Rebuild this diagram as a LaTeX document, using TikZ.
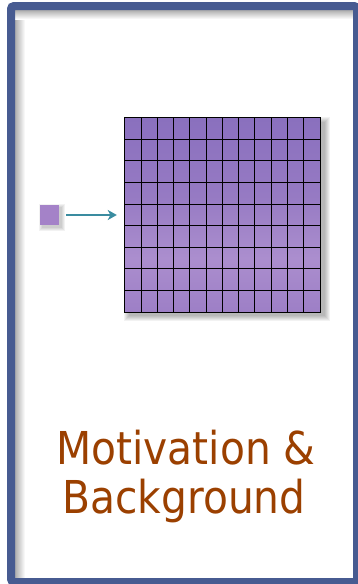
\documentclass[tikz,border=0pt]{standalone}
\usepackage{fontspec}
\setmainfont{DejaVu Sans Condensed}
\usetikzlibrary{arrows.meta}
\definecolor{framec}{RGB}{71,91,145}
\definecolor{arrowc}{RGB}{58,140,160}
\definecolor{titlec}{RGB}{155,64,0}
\definecolor{sqc}{RGB}{164,130,200}
\definecolor{gtop}{RGB}{138,112,190}
\definecolor{gmid}{RGB}{150,122,195}
\definecolor{glight}{RGB}{171,142,206}
\definecolor{gbot}{RGB}{157,127,198}
\pgfdeclareverticalshading{gridshade}{100bp}{color(0bp)=(gbot); color(25bp)=(gbot); color(39bp)=(glight); color(55bp)=(gmid); color(75bp)=(gtop); color(100bp)=(gtop)}
\tikzset{
  gridbox/.style={rectangle, inner sep=0pt, minimum width=195pt, minimum height=194pt, shading=gridshade},
  gridline/.style={black, line width=1pt},
  sqbox/.style={rectangle, inner sep=0pt, minimum size=19.5pt, fill=sqc},
  title/.style={text=titlec, font=\fontsize{45.3}{49}\selectfont},
  frame/.style={framec, line width=8pt, rounded corners=3pt},
  link/.style={arrowc, line width=2.4pt, -{Stealth[length=9pt,width=10pt,inset=2.5pt]}}
}
\begin{document}
\begin{tikzpicture}[x=1pt,y=-1pt]
\useasboundingbox (0,0) rectangle (357,584);
\fill[white] (0,0) rectangle (357,584);
% inner shadow of the frame
\shade[left color=black!32, right color=white] (15,10) rectangle (25,578);
\shade[top color=black!32, bottom color=white] (15,10) rectangle (353,19);
\draw[frame] (11,6) rectangle (357,582);
% grid shadow
\foreach \r in {0,...,5}
  \fill[black, opacity=0.05] (129-\r,122-\r) rectangle (325+\r,316+\r);
% square shadow
\foreach \r in {0,...,3}
  \fill[black, opacity=0.05] (42-\r,207-\r) rectangle (62+\r,228+\r);
\node[gridbox] (grid) at (222.5,215) {};
\foreach \i in {1,...,11}
  \draw[gridline] ([xshift=\i*16.25pt]grid.north west) -- ([xshift=\i*16.25pt]grid.south west);
\foreach \j in {1,...,8}
  \draw[gridline] ([yshift=-\j*21.556pt]grid.north west) -- ([yshift=-\j*21.556pt]grid.north east);
\draw[gridline] (grid.north west) rectangle (grid.south east);
\node[sqbox] (sq) at (49.5,215) {};
\draw[link, shorten <=7pt, shorten >=8pt] (sq) -- (grid);
\node[title, anchor=base] (t1) at (186,464) {Motivation \&};
\node[title, anchor=base] (t2) at (184,513) {Background};
\end{tikzpicture}
\end{document}
